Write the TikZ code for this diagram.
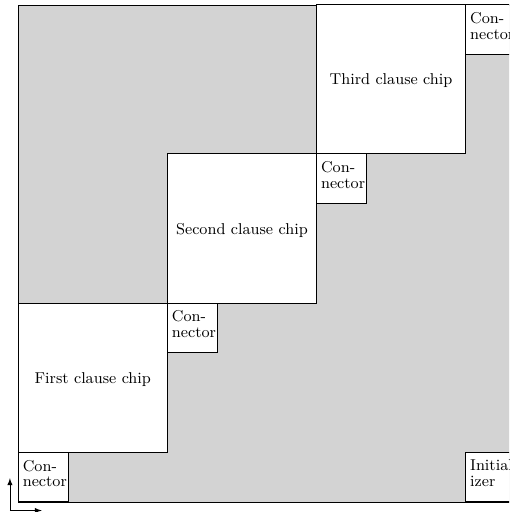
\documentclass[tikz,border=0pt]{standalone}
\definecolor{greyfill}{RGB}{211,211,211}
\begin{document}
\begin{tikzpicture}[x=1cm,y=1cm,
  chipbox/.style={draw,fill=white,minimum width=3cm,minimum height=3cm,anchor=south west,inner sep=0pt},
  chiptext/.style={font=\small,yshift=-1pt},
  connbox/.style={draw,fill=white,minimum width=1cm,minimum height=1cm,anchor=south west,inner sep=0pt},
  conntext/.style={anchor=north west,inner xsep=2.6pt,inner ysep=4.6pt,align=left,font={\fontsize{9}{9}\selectfont}}]
\clip (-0.36,-0.20) rectangle (9.88,10.10);
\useasboundingbox (-0.36,-0.20) rectangle (9.88,10.10);
\fill[greyfill] (0,0) rectangle (10,10);
\draw (0,0) rectangle (10,10);
\node[chipbox] (c1) at (0,1) {};
\node[chipbox] (c2) at (3,4) {};
\node[chipbox] (c3) at (6,7) {};
\node[chiptext] (l1) at (c1.center) {First clause chip};
\node[chiptext] (l2) at (c2.center) {Second clause chip};
\node[chiptext] (l3) at (c3.center) {Third clause chip};
\node[connbox] (k0) at (0,0) {};
\node[connbox] (k1) at (3,3) {};
\node[connbox] (k2) at (6,6) {};
\node[connbox] (k3) at (9,9) {};
\node[connbox] (ini) at (9,0) {};
\node[conntext] (t0) at (k0.north west) {Con-\\nector};
\node[conntext] (t1) at (k1.north west) {Con-\\nector};
\node[conntext] (t2) at (k2.north west) {Con-\\nector};
\node[conntext] (t3) at (k3.north west) {Con-\\nector};
\node[conntext] (ti) at (ini.north west) {Initial-\\izer};
\coordinate (o) at (-0.16,-0.17);
\coordinate (ox) at (0.48,-0.17);
\coordinate (oy) at (-0.16,0.48);
\draw[-latex] (o) -- (ox);
\draw[-latex] (o) -- (oy);
\end{tikzpicture}
\end{document}
